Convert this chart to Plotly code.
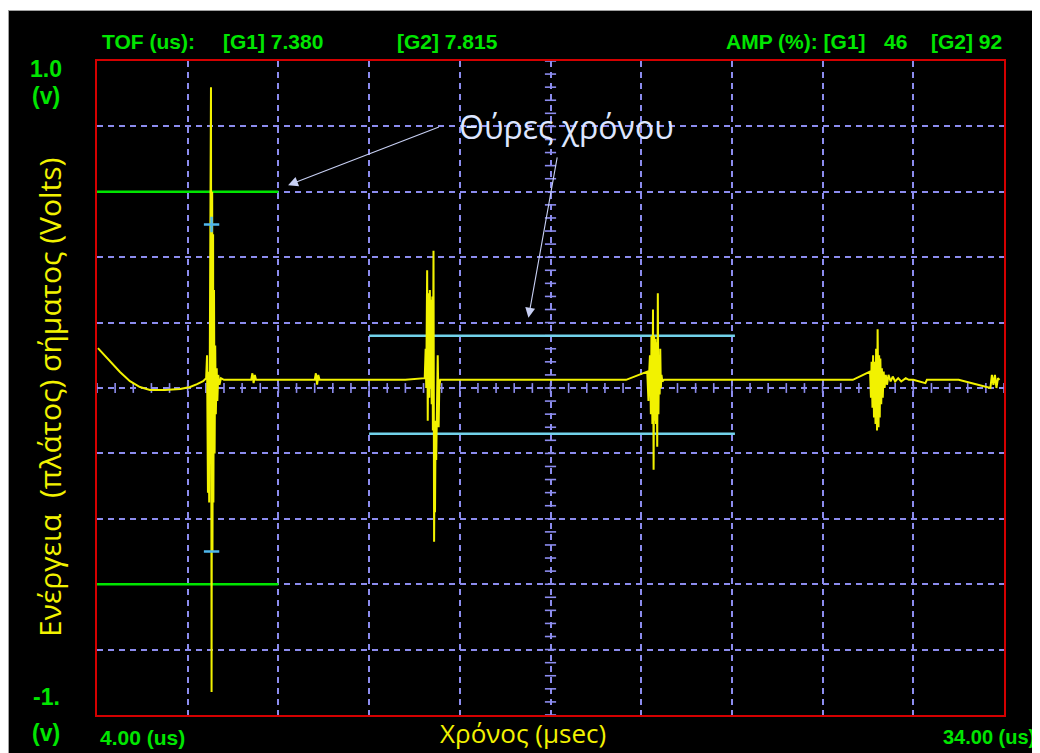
import numpy as np
import plotly.graph_objects as go

# ---------------- data ----------------
# time axis (us) and voltage axis (V)
x_min, x_max, x_div = 4.0, 34.0, 3.0
y_min, y_max, y_div = -1.0, 1.0, 0.2

# signal trace: time (us)
sig_t = [
    4.03, 4.26, 4.50, 4.76, 5.09, 5.42, 5.75, 6.25, 6.75, 7.08, 7.31, 7.51,
    # pulse 1 (front-surface echo)
    7.61, 7.64, 7.67, 7.69, 7.71, 7.74, 7.77, 7.79, 7.81, 7.82, 7.84, 7.85, 7.87,
    7.89, 7.91, 7.93, 7.96, 7.98, 8.01, 8.05, 8.10, 8.20,
    8.80, 9.10, 9.14, 9.18, 9.22, 9.26, 9.50, 10.60, 11.20, 11.24, 11.28, 11.32, 11.36,
    12.50, 13.50, 14.20, 14.84,
    # pulse 2
    14.87, 14.89, 14.92, 14.94, 14.97, 14.99, 15.01, 15.03, 15.05, 15.07, 15.09,
    15.11, 15.13, 15.15, 15.17, 15.18, 15.20, 15.22, 15.24, 15.25, 15.27, 15.29,
    15.30, 15.32, 15.35, 15.40,
    16.50, 17.50, 18.50, 19.50, 20.50, 21.50, 22.20,
    # pulse 3
    22.24, 22.26, 22.29, 22.32, 22.34, 22.37, 22.39, 22.41, 22.43, 22.45, 22.47,
    22.49, 22.51, 22.53, 22.55, 22.57, 22.59, 22.61, 22.63, 22.65, 22.67, 22.70,
    22.75, 22.80,
    23.80, 25.00, 26.50, 28.00, 29.00, 29.57,
    # pulse 4
    29.60, 29.62, 29.65, 29.67, 29.70, 29.72, 29.75, 29.77, 29.80, 29.82, 29.85,
    29.87, 29.89, 29.91, 29.94, 29.96, 29.99, 30.02, 30.05, 30.09, 30.13, 30.18,
    30.25, 30.32, 30.40, 30.50, 30.60, 30.75, 30.85, 31.00, 31.40, 31.45, 31.50,
    32.50, 33.55,
    33.60, 33.65, 33.70, 33.75, 33.80, 33.85, 33.90, 34.00,
]
# signal trace: amplitude (V)
sig_v = [
    0.122, 0.098, 0.073, 0.049, 0.021, 0.003, -0.006, -0.006, -0.003, 0.003, 0.012, 0.021,
    0.03, 0.10, -0.32, 0.05, -0.35, 0.10, 0.92, -0.93, 0.60, -0.50, 0.47, -0.35, 0.30,
    -0.20, 0.13, -0.08, 0.06, -0.04, 0.04, 0.01, 0.03, 0.025,
    0.025, 0.025, 0.045, 0.015, 0.04, 0.025, 0.025, 0.025, 0.025, 0.045, 0.01, 0.04, 0.025,
    0.025, 0.025, 0.025, 0.03,
    0.12, 0.0, 0.36, -0.10, 0.29, -0.03, 0.30, 0.0, 0.27, -0.05, 0.28,
    -0.13, 0.42, -0.47, -0.12, -0.38, -0.10, -0.22, -0.05, -0.17, 0.10, -0.03,
    -0.12, 0.0, 0.025,
    0.025, 0.025, 0.025, 0.025, 0.025, 0.025, 0.025,
    0.05, -0.04, 0.04, 0.10, -0.08, 0.16, -0.11, 0.24, -0.25, 0.16, -0.10,
    0.15, -0.11, 0.14, -0.18, 0.29, -0.08, 0.10, -0.02, 0.12, 0.0, 0.04,
    0.02, 0.025,
    0.025, 0.025, 0.025, 0.025, 0.025, 0.025,
    0.05, -0.03, 0.08, -0.06, 0.10, -0.09, 0.08, -0.11, 0.12, -0.13, 0.18,
    -0.12, 0.10, -0.09, 0.09, -0.05, 0.06, -0.03, 0.05, 0.0, 0.04, 0.01,
    0.04, 0.02, 0.035, 0.02, 0.03, 0.02, 0.03, 0.025, 0.025, 0.015, 0.025,
    0.025, 0.025,
    0.0, 0.04, 0.01, 0.04, 0.0, 0.03, 0.025,
]

# gate 1 (green) and gate 2 (cyan): start, end, upper level, lower level
gate1 = [4.0, 10.0, 0.60, -0.60]
gate2 = [13.0, 25.1, 0.16, -0.14]

# detection markers on first echo
det_t = [7.79, 7.79]
det_v = [0.50, -0.50]

# header texts
tof_label = "TOF (us):"
tof_g1 = "[G1] 7.380"
tof_g2 = "[G2] 7.815"
amp_label = "AMP (%): [G1]"
amp_g1 = "46"
amp_g2 = "[G2] 92"
y_top_label = ["1.0", "(v)"]
y_bot_label = ["-1.", "(v)"]
x_left_label = "4.00 (us)"
x_right_label = "34.00 (us)"
x_title = "Χρόνος (μsec)"
y_title = "Ενέργεια  (πλάτος) σήματος (Volts)"
gate_note = "Θύρες χρόνου"

# ---------------- layout geometry ----------------
# page body has an 8px margin; figure fills the rest of the window
OFF = 8
W, H = 1032, 745
L, R, T, B = 89, 36, 53, 38
PW, PH = W - L - R, H - T - B


def px(xs):
    """screen x (window pixels) -> paper x"""
    return (xs - OFF - L) / PW


def py(ys):
    """screen y (window pixels) -> paper y"""
    return (H - B - (ys - OFF)) / PH


GRID = "#8c8cee"
GREEN = "#00e600"
YELLOW = "#f2f200"
CYAN = "#72d2ea"

fig = go.Figure()

# graticule centre ticks (5 subdivisions per division)
n_sub = int(round((x_max - x_min) / x_div)) * 5
cx = np.linspace(x_min, x_max, n_sub + 1)
cy = np.linspace(y_min, y_max, int(round((y_max - y_min) / y_div)) * 5 + 1)
x_mid = (x_min + x_max) / 2
y_mid = (y_min + y_max) / 2
fig.add_trace(go.Scatter(x=cx, y=np.full_like(cx, y_mid), mode="markers",
                         marker=dict(symbol="line-ns", size=7,
                                     line=dict(color=GRID, width=1.6)),
                         hoverinfo="skip", showlegend=False))
fig.add_trace(go.Scatter(x=np.full_like(cy, x_mid), y=cy, mode="markers",
                         marker=dict(symbol="line-ew", size=8,
                                     line=dict(color=GRID, width=1.6)),
                         hoverinfo="skip", showlegend=False))

# gates
for g, col in ((gate1, GREEN), (gate2, CYAN)):
    for lvl in (g[2], g[3]):
        fig.add_trace(go.Scatter(x=[g[0], g[1]], y=[lvl, lvl], mode="lines",
                                 line=dict(color=col, width=2.5),
                                 hoverinfo="skip", showlegend=False))

# signal
fig.add_trace(go.Scatter(x=sig_t, y=sig_v, mode="lines",
                         line=dict(color=YELLOW, width=2),
                         showlegend=False))

# detection markers
fig.add_trace(go.Scatter(x=det_t[:1], y=det_v[:1], mode="markers",
                         marker=dict(symbol="cross-thin", size=11,
                                     line=dict(color="#4fb8ec", width=2.5)),
                         showlegend=False))
fig.add_trace(go.Scatter(x=det_t[1:], y=det_v[1:], mode="markers",
                         marker=dict(symbol="line-ew", size=11,
                                     line=dict(color="#4fb8ec", width=2.5)),
                         showlegend=False))

ann = []
hdr_font = dict(family="Liberation Sans", size=21, color=GREEN)
side_font = dict(family="Liberation Sans", size=23, color=GREEN)
for txt, xp, anchor in ((tof_label, 100, "left"), (tof_g1, 221, "left"),
                        (tof_g2, 395, "left"), (amp_label, 724, "left"),
                        (amp_g1, 882, "left"), (amp_g2, 1004, "right")):
    ann.append(dict(text="<b>%s</b>" % txt, x=px(xp), y=py(42), xref="paper", yref="paper",
                    xanchor=anchor, yanchor="middle", showarrow=False, font=hdr_font))

for txt, yp in ((y_top_label[0], 69), (y_top_label[1], 96),
                (y_bot_label[0], 697), (y_bot_label[1], 733)):
    ann.append(dict(text="<b>%s</b>" % txt, x=px(46), y=py(yp), xref="paper", yref="paper",
                    xanchor="center", yanchor="middle", showarrow=False, font=side_font))

ann.append(dict(text="<b>%s</b>" % x_left_label, x=px(98), y=py(737), xref="paper",
                yref="paper", xanchor="left", yanchor="middle", showarrow=False,
                font=hdr_font))
ann.append(dict(text="<b>%s</b>" % x_right_label, x=px(1037), y=py(737), xref="paper",
                yref="paper", xanchor="right", yanchor="middle", showarrow=False,
                font=dict(family="Liberation Sans", size=20, color=GREEN)))

ann.append(dict(text=x_title, x=px(523), y=py(733), xref="paper", yref="paper",
                xanchor="center", yanchor="middle", showarrow=False,
                font=dict(family="Open Sans", size=26, color=YELLOW)))
ann.append(dict(text=y_title, x=px(49), y=py(398), xref="paper", yref="paper",
                xanchor="center", yanchor="middle", showarrow=False, textangle=-90,
                font=dict(family="Open Sans", size=30, color=YELLOW)))

ann.append(dict(text=gate_note, x=px(566), y=py(127), xref="paper", yref="paper",
                xanchor="center", yanchor="middle", showarrow=False,
                font=dict(family="Open Sans", size=32, color="#dde6ff")))

# arrows from the note to the gates
for (tx, ty), (hx, hy) in (((15.36, 0.80), (10.32, 0.62)),
                           ((19.23, 0.71), (18.27, 0.215))):
    ann.append(dict(text="", x=hx, y=hy, ax=tx, ay=ty, xref="x", yref="y",
                    axref="x", ayref="y", showarrow=True, arrowhead=2,
                    arrowsize=1.8, arrowwidth=1.1, arrowcolor="#c8d0f4"))

shapes = [
    dict(type="rect", xref="paper", yref="paper", x0=px(0), x1=px(1040), y0=py(10), y1=py(0),
         fillcolor="white", line=dict(width=0), layer="above"),
    dict(type="line", xref="paper", yref="paper", x0=px(8), x1=px(1040), y0=py(10.5), y1=py(10.5),
         line=dict(color="#a0a0a0", width=1), layer="above"),
    dict(type="line", xref="paper", yref="paper", x0=px(8.5), x1=px(8.5), y0=py(753), y1=py(10.5),
         line=dict(color="#a0a0a0", width=1), layer="above"),
]

axis_common = dict(showgrid=True, gridcolor=GRID, griddash="6px,5px", gridwidth=1.6,
                   zeroline=False, showticklabels=False, ticks="",
                   showline=True, linecolor="#d40000", linewidth=2, mirror=True)

fig.update_layout(
    width=W, height=H,
    margin=dict(l=L, r=R, t=T, b=B),
    paper_bgcolor="black", plot_bgcolor="black",
    xaxis=dict(range=[x_min, x_max], dtick=x_div, tick0=x_min, **axis_common),
    yaxis=dict(range=[y_min, y_max], dtick=y_div, tick0=y_min, **axis_common),
    annotations=ann, shapes=shapes, showlegend=False,
)

fig.write_html("out.html")
